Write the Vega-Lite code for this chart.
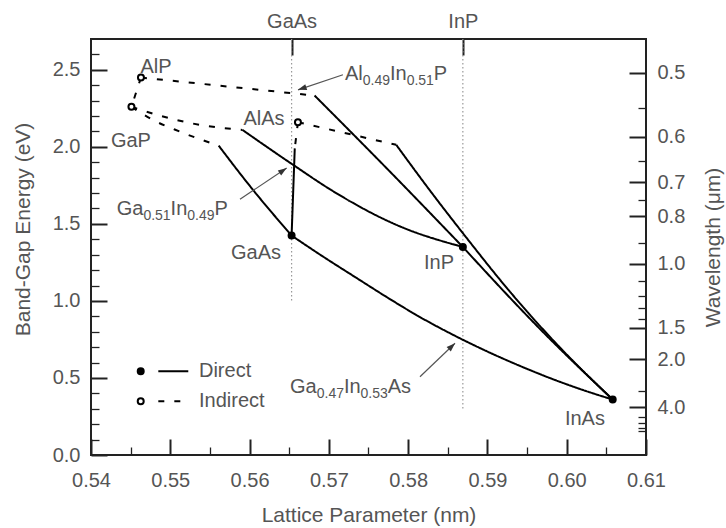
{
  "$schema": "https://vega.github.io/schema/vega-lite/v6.json",
  "width": 555,
  "height": 416,
  "autosize": {"type": "none"},
  "padding": {"left": 91, "top": 39, "right": 80, "bottom": 73},
  "background": "white",
  "config": {
    "view": {"stroke": "#222", "strokeWidth": 2},
    "axis": {
      "domain": false, "grid": false,
      "tickColor": "#222",
      "labelFont": "Liberation Sans", "labelFontSize": 20, "labelColor": "#555",
      "titleFont": "Liberation Sans", "titleFontSize": 21, "titleFontWeight": "normal", "titleColor": "#555",
      "labelFlush": false, "labelOverlap": false, "labelBound": false
    },
    "text": {"font": "Liberation Sans", "fontSize": 20, "fill": "#555"}
  },
  "datasets": {
    "curves": [
      {"c": "AlGaP", "t": "Indirect", "i": 0, "a": 0.5463, "E": 2.45},
      {"c": "AlGaP", "t": "Indirect", "i": 1, "a": 0.5451, "E": 2.26},
      {"c": "AlInP-i", "t": "Indirect", "i": 0, "a": 0.5463, "E": 2.45},
      {"c": "AlInP-i", "t": "Indirect", "i": 1, "a": 0.5682, "E": 2.333},
      {"c": "AlInP-d", "t": "Direct", "i": 0, "a": 0.5682, "E": 2.333},
      {"c": "AlInP-d", "t": "Direct", "i": 1, "a": 0.5775, "E": 1.85},
      {"c": "AlInP-d", "t": "Direct", "i": 2, "a": 0.5869, "E": 1.35},
      {"c": "GaInP-i", "t": "Indirect", "i": 0, "a": 0.5451, "E": 2.26},
      {"c": "GaInP-i", "t": "Indirect", "i": 1, "a": 0.5483, "E": 2.208},
      {"c": "GaInP-i", "t": "Indirect", "i": 2, "a": 0.5537, "E": 2.143},
      {"c": "GaInP-i", "t": "Indirect", "i": 3, "a": 0.5591, "E": 2.11},
      {"c": "GaInP-d", "t": "Direct", "i": 0, "a": 0.5591, "E": 2.11},
      {"c": "GaInP-d", "t": "Direct", "i": 1, "a": 0.5655, "E": 1.883},
      {"c": "GaInP-d", "t": "Direct", "i": 2, "a": 0.5706, "E": 1.71},
      {"c": "GaInP-d", "t": "Direct", "i": 3, "a": 0.579, "E": 1.483},
      {"c": "GaInP-d", "t": "Direct", "i": 4, "a": 0.5869, "E": 1.35},
      {"c": "GaAsP-i", "t": "Indirect", "i": 0, "a": 0.5451, "E": 2.26},
      {"c": "GaAsP-i", "t": "Indirect", "i": 1, "a": 0.5474, "E": 2.186},
      {"c": "GaAsP-i", "t": "Indirect", "i": 2, "a": 0.5512, "E": 2.099},
      {"c": "GaAsP-i", "t": "Indirect", "i": 3, "a": 0.5561, "E": 2.008},
      {"c": "GaAsP-d", "t": "Direct", "i": 0, "a": 0.5561, "E": 2.008},
      {"c": "GaAsP-d", "t": "Direct", "i": 1, "a": 0.5601, "E": 1.742},
      {"c": "GaAsP-d", "t": "Direct", "i": 2, "a": 0.5653, "E": 1.424},
      {"c": "AlGaAs-i", "t": "Indirect", "i": 0, "a": 0.5661, "E": 2.16},
      {"c": "AlGaAs-i", "t": "Indirect", "i": 1, "a": 0.5657, "E": 1.99},
      {"c": "AlGaAs-d", "t": "Direct", "i": 0, "a": 0.5657, "E": 1.99},
      {"c": "AlGaAs-d", "t": "Direct", "i": 1, "a": 0.5653, "E": 1.424},
      {"c": "AlInAs-i", "t": "Indirect", "i": 0, "a": 0.5661, "E": 2.16},
      {"c": "AlInAs-i", "t": "Indirect", "i": 1, "a": 0.5785, "E": 2.013},
      {"c": "AlInAs-d", "t": "Direct", "i": 0, "a": 0.5785, "E": 2.013},
      {"c": "AlInAs-d", "t": "Direct", "i": 1, "a": 0.5827, "E": 1.72},
      {"c": "AlInAs-d", "t": "Direct", "i": 2, "a": 0.5869, "E": 1.44},
      {"c": "AlInAs-d", "t": "Direct", "i": 3, "a": 0.593, "E": 1.05},
      {"c": "AlInAs-d", "t": "Direct", "i": 4, "a": 0.5991, "E": 0.7},
      {"c": "AlInAs-d", "t": "Direct", "i": 5, "a": 0.6058, "E": 0.36},
      {"c": "GaInAs", "t": "Direct", "i": 0, "a": 0.5653, "E": 1.424},
      {"c": "GaInAs", "t": "Direct", "i": 1, "a": 0.56935, "E": 1.285},
      {"c": "GaInAs", "t": "Direct", "i": 2, "a": 0.5734, "E": 1.152},
      {"c": "GaInAs", "t": "Direct", "i": 3, "a": 0.57745, "E": 1.02},
      {"c": "GaInAs", "t": "Direct", "i": 4, "a": 0.5815, "E": 0.895},
      {"c": "GaInAs", "t": "Direct", "i": 5, "a": 0.58555, "E": 0.783},
      {"c": "GaInAs", "t": "Direct", "i": 6, "a": 0.5896, "E": 0.681},
      {"c": "GaInAs", "t": "Direct", "i": 7, "a": 0.59365, "E": 0.588},
      {"c": "GaInAs", "t": "Direct", "i": 8, "a": 0.5977, "E": 0.503},
      {"c": "GaInAs", "t": "Direct", "i": 9, "a": 0.60175, "E": 0.427},
      {"c": "GaInAs", "t": "Direct", "i": 10, "a": 0.6058, "E": 0.36},
      {"c": "InAsP", "t": "Direct", "i": 0, "a": 0.5869, "E": 1.35},
      {"c": "InAsP", "t": "Direct", "i": 1, "a": 0.5964, "E": 0.83},
      {"c": "InAsP", "t": "Direct", "i": 2, "a": 0.6058, "E": 0.36}
    ],
    "compounds": [
      {"name": "AlP", "t": "Indirect", "a": 0.5463, "E": 2.45},
      {"name": "GaP", "t": "Indirect", "a": 0.5451, "E": 2.26},
      {"name": "AlAs", "t": "Indirect", "a": 0.5661, "E": 2.16},
      {"name": "GaAs", "t": "Direct", "a": 0.5653, "E": 1.424},
      {"name": "InP", "t": "Direct", "a": 0.5869, "E": 1.35},
      {"name": "InAs", "t": "Direct", "a": 0.6058, "E": 0.36}
    ],
    "guides": [
      {"name": "GaAs", "a": 0.5653, "top": 2.7, "bot": 1.0},
      {"name": "InP", "a": 0.5869, "top": 2.7, "bot": 0.29}
    ],
    "labels": [
      {"text": "AlP", "a": 0.5482, "E": 2.516},
      {"text": "GaP", "a": 0.54504, "E": 2.036},
      {"text": "AlAs", "a": 0.56182, "E": 2.182},
      {"text": "GaAs", "a": 0.56081, "E": 1.312},
      {"text": "InP", "a": 0.58389, "E": 1.247},
      {"text": "InAs", "a": 0.6023, "E": 0.234}
    ],
    "sublabels": [
      {"text": "Al", "part": "main", "a": 0.57203, "E": 2.435},
      {"text": "0.49", "part": "sub", "a": 0.57427, "E": 2.435},
      {"text": "In", "part": "main", "a": 0.5777, "E": 2.435},
      {"text": "0.51", "part": "sub", "a": 0.57981, "E": 2.435},
      {"text": "P", "part": "main", "a": 0.58324, "E": 2.435},
      {"text": "Ga", "part": "main", "a": 0.54324, "E": 1.558},
      {"text": "0.51", "part": "sub", "a": 0.54661, "E": 1.558},
      {"text": "In", "part": "main", "a": 0.55004, "E": 1.558},
      {"text": "0.49", "part": "sub", "a": 0.55215, "E": 1.558},
      {"text": "P", "part": "main", "a": 0.55558, "E": 1.558},
      {"text": "Ga", "part": "main", "a": 0.5651, "E": 0.4006},
      {"text": "0.47", "part": "sub", "a": 0.56847, "E": 0.4006},
      {"text": "In", "part": "main", "a": 0.5719, "E": 0.4006},
      {"text": "0.53", "part": "sub", "a": 0.574, "E": 0.4006},
      {"text": "As", "part": "main", "a": 0.57743, "E": 0.4006}
    ],
    "arrows": [
      {"n": "al", "a": 0.57178, "E": 2.468, "a2": 0.56611, "E2": 2.37},
      {"n": "ga51", "a": 0.55879, "E": 1.66, "a2": 0.56468, "E2": 1.862},
      {"n": "ga47", "a": 0.58149, "E": 0.508, "a2": 0.58591, "E2": 0.725}
    ],
    "legend": [
      {"t": "Direct", "xs": 0.54627, "l1": 0.54849, "l2": 0.55227, "xt": 0.55362, "E": 0.5435},
      {"t": "Indirect", "xs": 0.54627, "l1": 0.54849, "l2": 0.55127, "xt": 0.55362, "E": 0.349}
    ]
  },
  "layer": [
    {
      "layer": [
        {
          "data": {"name": "guides"},
          "mark": {"type": "rule", "color": "#999", "strokeWidth": 1.2, "strokeDash": [1.5, 2.5]},
          "encoding": {
            "x": {"field": "a", "type": "quantitative", "scale": {"domain": [0.54, 0.61], "zero": false, "nice": false}, "axis": null},
            "y": {"field": "top", "type": "quantitative", "scale": {"domain": [0, 2.7], "zero": false, "nice": false}, "axis": null},
            "y2": {"field": "bot"}
          }
        },
        {
          "data": {"name": "curves"},
          "mark": {"type": "line", "color": "black", "strokeWidth": 2, "interpolate": "monotone"},
          "encoding": {
            "x": {"field": "a", "type": "quantitative", "axis": null},
            "y": {"field": "E", "type": "quantitative", "axis": null},
            "detail": {"field": "c"},
            "order": {"field": "i", "type": "quantitative"},
            "strokeDash": {"field": "t", "type": "nominal", "scale": {"domain": ["Direct", "Indirect"], "range": [[1, 0], [6, 10]]}, "legend": null}
          }
        },
        {
          "data": {"name": "arrows"},
          "mark": {"type": "rule", "color": "#555", "strokeWidth": 1.2},
          "encoding": {
            "x": {"field": "a", "type": "quantitative", "axis": null},
            "y": {"field": "E", "type": "quantitative", "axis": null},
            "x2": {"field": "a2"},
            "y2": {"field": "E2"}
          }
        },
        {
          "data": {"name": "arrows"},
          "transform": [{"filter": "datum.n == 'al'"}],
          "mark": {"type": "point", "shape": "M0,0L-0.35,1L0.35,1Z", "filled": true, "color": "#333", "size": 300, "angle": 251.6, "opacity": 1},
          "encoding": {"x": {"field": "a2", "type": "quantitative", "axis": null}, "y": {"field": "E2", "type": "quantitative", "axis": null}}
        },
        {
          "data": {"name": "arrows"},
          "transform": [{"filter": "datum.n == 'ga51'"}],
          "mark": {"type": "point", "shape": "M0,0L-0.35,1L0.35,1Z", "filled": true, "color": "#333", "size": 300, "angle": 56.4, "opacity": 1},
          "encoding": {"x": {"field": "a2", "type": "quantitative", "axis": null}, "y": {"field": "E2", "type": "quantitative", "axis": null}}
        },
        {
          "data": {"name": "arrows"},
          "transform": [{"filter": "datum.n == 'ga47'"}],
          "mark": {"type": "point", "shape": "M0,0L-0.35,1L0.35,1Z", "filled": true, "color": "#333", "size": 300, "angle": 46.3, "opacity": 1},
          "encoding": {"x": {"field": "a2", "type": "quantitative", "axis": null}, "y": {"field": "E2", "type": "quantitative", "axis": null}}
        },
        {
          "data": {"name": "compounds"},
          "mark": {"type": "point", "shape": "circle", "filled": true, "stroke": "black", "strokeWidth": 2, "size": 36, "opacity": 1},
          "encoding": {
            "x": {"field": "a", "type": "quantitative", "axis": null},
            "y": {"field": "E", "type": "quantitative", "axis": null},
            "fill": {"field": "t", "type": "nominal", "scale": {"domain": ["Direct", "Indirect"], "range": ["black", "white"]}, "legend": null}
          }
        },
        {
          "data": {"name": "labels"},
          "mark": {"type": "text", "align": "center", "baseline": "middle"},
          "encoding": {
            "x": {"field": "a", "type": "quantitative", "axis": null},
            "y": {"field": "E", "type": "quantitative", "axis": null},
            "text": {"field": "text"}
          }
        },
        {
          "data": {"name": "sublabels"},
          "transform": [{"filter": "datum.part == 'main'"}],
          "mark": {"type": "text", "align": "left", "baseline": "alphabetic", "fontSize": 20},
          "encoding": {
            "x": {"field": "a", "type": "quantitative", "axis": null},
            "y": {"field": "E", "type": "quantitative", "axis": null},
            "text": {"field": "text"}
          }
        },
        {
          "data": {"name": "sublabels"},
          "transform": [{"filter": "datum.part == 'sub'"}],
          "mark": {"type": "text", "align": "left", "baseline": "alphabetic", "fontSize": 14, "dy": 5},
          "encoding": {
            "x": {"field": "a", "type": "quantitative", "axis": null},
            "y": {"field": "E", "type": "quantitative", "axis": null},
            "text": {"field": "text"}
          }
        },
        {
          "data": {"name": "legend"},
          "mark": {"type": "rule", "color": "black", "strokeWidth": 2},
          "encoding": {
            "x": {"field": "l1", "type": "quantitative", "axis": null},
            "x2": {"field": "l2"},
            "y": {"field": "E", "type": "quantitative", "axis": null},
            "strokeDash": {"field": "t", "type": "nominal", "scale": {"domain": ["Direct", "Indirect"], "range": [[1, 0], [6, 9]]}, "legend": null}
          }
        },
        {
          "data": {"name": "legend"},
          "mark": {"type": "point", "shape": "circle", "filled": true, "stroke": "black", "strokeWidth": 2, "size": 36, "opacity": 1},
          "encoding": {
            "x": {"field": "xs", "type": "quantitative", "axis": null},
            "y": {"field": "E", "type": "quantitative", "axis": null},
            "fill": {"field": "t", "type": "nominal", "legend": null}
          }
        },
        {
          "data": {"name": "legend"},
          "mark": {"type": "text", "align": "left", "baseline": "middle"},
          "encoding": {
            "x": {"field": "xt", "type": "quantitative", "axis": null},
            "y": {"field": "E", "type": "quantitative", "axis": null},
            "text": {"field": "t"}
          }
        }
      ]
    },
    {
      "data": {"name": "compounds"},
      "mark": {"type": "point", "opacity": 0},
      "encoding": {
        "x": {"field": "a", "type": "quantitative", "scale": {"domain": [0.54, 0.61], "zero": false, "nice": false},
          "axis": {
            "orient": "bottom",
            "values": [0.54, 0.545, 0.55, 0.555, 0.56, 0.565, 0.57, 0.575, 0.58, 0.585, 0.59, 0.595, 0.6, 0.605, 0.61],
            "labelExpr": "abs(datum.value*100 - round(datum.value*100)) < 0.01 ? format(datum.value, '.2f') : ''",
            "tickSize": {"condition": {"test": "abs(datum.value*100 - round(datum.value*100)) < 0.01", "value": -16}, "value": -8},
            "tickWidth": {"condition": {"test": "abs(datum.value*100 - round(datum.value*100)) < 0.01", "value": 2}, "value": 1.3},
            "labelBaseline": "alphabetic",
            "labelPadding": 47,
            "title": "Lattice Parameter (nm)",
            "titleBaseline": "alphabetic",
            "titleY": 66
          }
        },
        "y": {"field": "E", "type": "quantitative", "scale": {"domain": [0, 2.7], "zero": false, "nice": false},
          "axis": {
            "orient": "left",
            "values": [0, 0.1, 0.2, 0.3, 0.4, 0.5, 0.6, 0.7, 0.8, 0.9, 1, 1.1, 1.2, 1.3, 1.4, 1.5, 1.6, 1.7, 1.8, 1.9, 2, 2.1, 2.2, 2.3, 2.4, 2.5, 2.6],
            "labelExpr": "abs(datum.value*2 - round(datum.value*2)) < 0.001 ? format(datum.value, '.1f') : ''",
            "tickSize": {"condition": {"test": "abs(datum.value*2 - round(datum.value*2)) < 0.001", "value": -16}, "value": -8},
            "tickWidth": {"condition": {"test": "abs(datum.value*2 - round(datum.value*2)) < 0.001", "value": 2}, "value": 1.3},
            "labelPadding": 27,
            "title": "Band-Gap Energy (eV)",
            "titleAngle": 270,
            "titleBaseline": "middle",
            "titleAlign": "center",
            "titleX": -68,
            "titleY": 190
          }
        }
      }
    },
    {
      "data": {"name": "compounds"},
      "mark": {"type": "point", "opacity": 0},
      "encoding": {
        "x": {"field": "a", "type": "quantitative", "scale": {"domain": [0.54, 0.61], "zero": false, "nice": false}, "axis": null},
        "y": {"field": "E", "type": "quantitative", "scale": {"domain": [0, 2.7], "zero": false, "nice": false},
          "axis": {
            "orient": "right",
            "values": [2.48, 2.0667, 1.7714, 1.55, 1.24, 0.8267, 0.62, 0.31, 2.2545, 1.9077, 1.6533, 1.3778, 1.1273, 1.0333, 0.9538, 0.8857, 0.4133, 0.248, 0.2067, 0.1771, 0.155],
            "labelExpr": "indexof([2.48, 2.0667, 1.7714, 1.55, 1.24, 0.8267, 0.62, 0.31], datum.value) >= 0 ? format(1.24/datum.value, '.1f') : ''",
            "tickSize": {"condition": {"test": "indexof([2.48, 2.0667, 1.7714, 1.55, 1.24, 0.8267, 0.62, 0.31], datum.value) >= 0", "value": -17}, "value": -8},
            "tickWidth": {"condition": {"test": "indexof([2.48, 2.0667, 1.7714, 1.55, 1.24, 0.8267, 0.62, 0.31], datum.value) >= 0", "value": 2}, "value": 1.3},
            "labelPadding": 28,
            "title": "Wavelength (μm)",
            "titleAngle": 270,
            "titleBaseline": "middle",
            "titleAlign": "center",
            "titleX": 67,
            "titleY": 208
          }
        }
      }
    },
    {
      "data": {"name": "guides"},
      "mark": {"type": "point", "opacity": 0},
      "encoding": {
        "x": {"field": "a", "type": "quantitative", "scale": {"domain": [0.54, 0.61], "zero": false, "nice": false},
          "axis": {
            "orient": "top",
            "values": [0.5653, 0.5869],
            "labelExpr": "datum.value < 0.57 ? 'GaAs' : 'InP'",
            "tickSize": -16,
            "tickWidth": 2,
            "labelBaseline": "alphabetic",
            "labelPadding": 28,
            "title": null
          }
        },
        "y": {"field": "top", "type": "quantitative", "scale": {"domain": [0, 2.7], "zero": false, "nice": false}, "axis": null}
      }
    }
  ],
  "resolve": {"scale": {"x": "independent", "y": "independent"}}
}
